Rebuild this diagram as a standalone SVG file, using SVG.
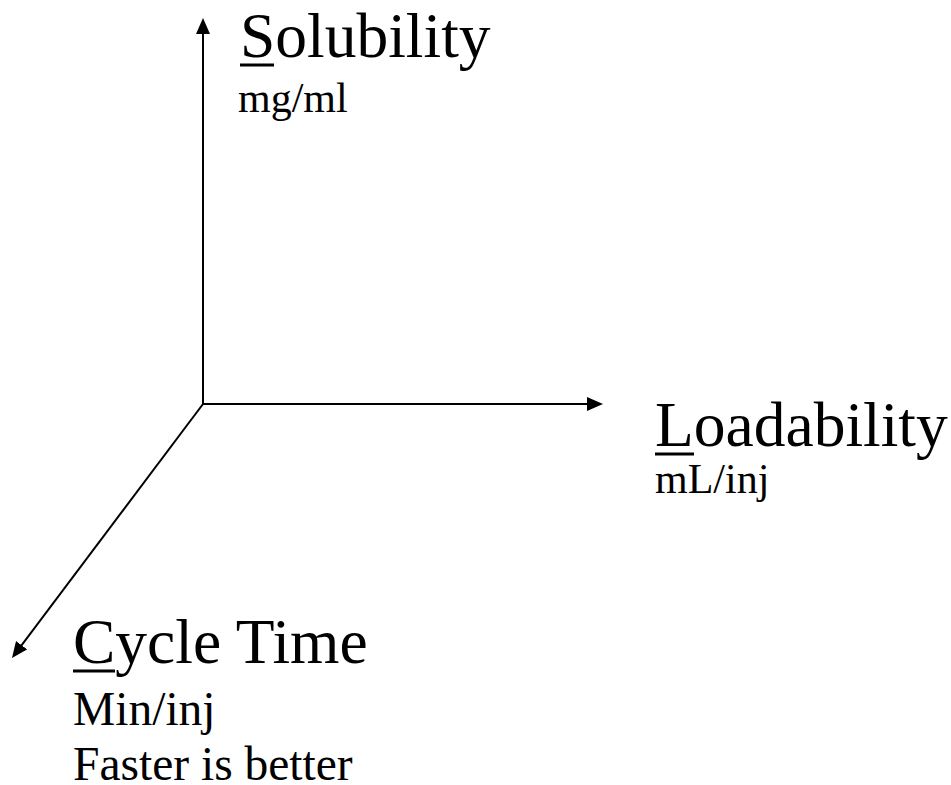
<svg xmlns="http://www.w3.org/2000/svg" width="951" height="785" viewBox="0 0 951 785">
  <style>
    .axis { stroke: #000; stroke-width: 2; fill: none; }
    .ul-line { stroke: #000; stroke-width: 3; }
    .title { font-family: "Liberation Serif", "Times New Roman", serif; font-size: 63.5px; fill: #000; }
    .unit { font-family: "Liberation Serif", "Times New Roman", serif; font-size: 42px; fill: #000; }
    .unit-lg { font-family: "Liberation Serif", "Times New Roman", serif; font-size: 47.5px; fill: #000; }
  </style>
  <defs>
    <marker id="arrow" viewBox="0 0 16 14" refX="8" refY="7" markerWidth="16" markerHeight="14" markerUnits="userSpaceOnUse" orient="auto">
      <path d="M0,0 L16,7 L0,14 Z" fill="#000"/>
    </marker>
  </defs>

  <rect width="951" height="785" fill="#fff"/>

  <!-- three axes from a common origin -->
  <g id="connectors">
    <line class="axis" x1="203" y1="404" x2="203" y2="26" marker-end="url(#arrow)"/>
    <line class="axis" x1="202" y1="404" x2="595" y2="404" marker-end="url(#arrow)"/>
    <line class="axis" x1="203" y1="404" x2="16.8" y2="651.6" marker-end="url(#arrow)"/>
  </g>

  <g id="solubility">
    <text class="title" x="240" y="57">Solubility</text>
    <line class="ul-line" x1="240" y1="65" x2="274" y2="65"/>
    <text class="unit" x="238" y="112">mg/ml</text>
  </g>

  <g id="loadability">
    <text class="title" x="655" y="446">Loadability</text>
    <line class="ul-line" x1="655" y1="454" x2="694" y2="454"/>
    <text class="unit" x="655" y="493">mL/inj</text>
  </g>

  <g id="cycle-time">
    <text class="title" x="73" y="663">Cycle Time</text>
    <line class="ul-line" x1="73" y1="671" x2="115" y2="671"/>
    <text class="unit-lg" x="73" y="725">Min/inj</text>
    <text class="unit-lg" x="73" y="780">Faster is better</text>
  </g>
</svg>
